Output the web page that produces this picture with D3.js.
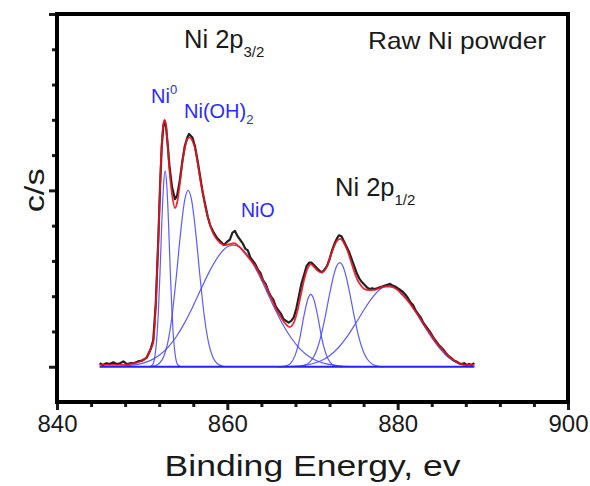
<!DOCTYPE html>
<html>
<head>
<meta charset="utf-8">
<script src="https://cdn.jsdelivr.net/npm/d3@7"></script>
<style>
  html, body { margin: 0; padding: 0; background: #fff; }
  svg { display: block; }
</style>
</head>
<body>
<script>
// ---- data (binding energy in eV, counts in c/s, arbitrary units) ----
var energyTicks = [840, 860, 880, 900];
var energyMinorTicks = [844, 848, 852, 856, 864, 868, 872, 876, 884, 888, 892, 896];
var countTicks = [0, 1, 2];
var countMinorTicks = [0.2, 0.4, 0.6, 0.8, 1.2, 1.4, 1.6, 1.8];

// measured spectrum (black)
var rawSpectrum = [
  [845.0, 0.02], [845.4, 0.01], [845.8, 0.02], [846.2, 0.015], [846.6, 0.025], [847.0, 0.015],
  [847.4, 0.02], [847.8, 0.03], [848.2, 0.015], [848.6, 0.02], [849.0, 0.02], [849.5, 0.03],
  [850.0, 0.035], [850.5, 0.05], [851.0, 0.10], [851.3, 0.15], [851.6, 0.36], [851.9, 0.73],
  [852.1, 1.02], [852.3, 1.25], [852.5, 1.37], [852.65, 1.39], [852.8, 1.36], [853.0, 1.26],
  [853.2, 1.14], [853.5, 1.02], [853.85, 0.95], [854.1, 0.97], [854.4, 1.05], [854.7, 1.16],
  [855.0, 1.25], [855.3, 1.30], [855.5, 1.32], [855.7, 1.31], [855.9, 1.30], [856.2, 1.25],
  [856.5, 1.17], [856.8, 1.08], [857.1, 0.99], [857.4, 0.92], [857.7, 0.85], [858.0, 0.80],
  [858.4, 0.76], [858.8, 0.73], [859.2, 0.71], [859.6, 0.69], [860.0, 0.71], [860.3, 0.72],
  [860.6, 0.76], [860.9, 0.77], [861.2, 0.74], [861.5, 0.72], [861.8, 0.70], [862.1, 0.67],
  [862.4, 0.66], [862.7, 0.62], [863.0, 0.60], [863.3, 0.58], [863.6, 0.55], [863.9, 0.53],
  [864.2, 0.49], [864.5, 0.47], [864.8, 0.43], [865.1, 0.40], [865.4, 0.38], [865.7, 0.34],
  [866.0, 0.32], [866.3, 0.30], [866.6, 0.27], [866.9, 0.26], [867.2, 0.25], [867.5, 0.26],
  [867.8, 0.28], [868.1, 0.33], [868.4, 0.40], [868.7, 0.47], [869.0, 0.52], [869.3, 0.57],
  [869.6, 0.59], [869.9, 0.59], [870.2, 0.575], [870.5, 0.56], [870.8, 0.545], [871.1, 0.535],
  [871.4, 0.55], [871.7, 0.57], [872.0, 0.61], [872.3, 0.66], [872.6, 0.70], [872.9, 0.73],
  [873.1, 0.745], [873.4, 0.74], [873.7, 0.71], [874.0, 0.68], [874.3, 0.65], [874.6, 0.61],
  [874.9, 0.57], [875.2, 0.53], [875.5, 0.50], [875.8, 0.48], [876.1, 0.465], [876.4, 0.45],
  [876.7, 0.44], [877.0, 0.445], [877.3, 0.44], [877.6, 0.445], [877.9, 0.45], [878.2, 0.455],
  [878.5, 0.46], [878.8, 0.465], [879.1, 0.47], [879.4, 0.46], [879.7, 0.455], [880.0, 0.445],
  [880.3, 0.435], [880.6, 0.425], [880.9, 0.41], [881.2, 0.39], [881.5, 0.365], [881.8, 0.35],
  [882.1, 0.32], [882.4, 0.30], [882.7, 0.28], [883.0, 0.25], [883.3, 0.23], [883.6, 0.21],
  [883.9, 0.19], [884.2, 0.165], [884.5, 0.145], [884.8, 0.125], [885.1, 0.11], [885.4, 0.095],
  [885.7, 0.075], [886.0, 0.06], [886.3, 0.05], [886.6, 0.035], [886.9, 0.03], [887.2, 0.02],
  [887.5, 0.015], [887.8, 0.02], [888.1, 0.01], [888.4, 0.015], [888.7, 0.01], [889.0, 0.02]
];

// fitted envelope (red)
var fitEnvelope = [
  [845.0, 0.01], [846.0, 0.01], [847.0, 0.01], [848.0, 0.01], [848.5, 0.015], [849.0, 0.02],
  [849.5, 0.025], [850.0, 0.035], [850.5, 0.05], [851.0, 0.10], [851.3, 0.14], [851.6, 0.35],
  [851.9, 0.72], [852.1, 1.02], [852.3, 1.26], [852.5, 1.38], [852.65, 1.40], [852.8, 1.37],
  [853.0, 1.25], [853.2, 1.12], [853.5, 0.98], [853.85, 0.90], [854.1, 0.93], [854.4, 1.03],
  [854.7, 1.15], [855.0, 1.24], [855.3, 1.29], [855.6, 1.30], [855.9, 1.28], [856.2, 1.24],
  [856.5, 1.16], [856.8, 1.07], [857.1, 0.99], [857.4, 0.91], [857.7, 0.85], [858.0, 0.80],
  [858.4, 0.75], [858.8, 0.72], [859.2, 0.70], [859.7, 0.69], [860.2, 0.695], [860.8, 0.70],
  [861.3, 0.685], [861.8, 0.66], [862.3, 0.63], [862.8, 0.60], [863.3, 0.57], [863.8, 0.525],
  [864.3, 0.48], [864.8, 0.43], [865.3, 0.375], [865.8, 0.32], [866.3, 0.28], [866.8, 0.245],
  [867.3, 0.225], [867.8, 0.25], [868.2, 0.31], [868.6, 0.40], [869.0, 0.49], [869.4, 0.555],
  [869.8, 0.58], [870.2, 0.565], [870.6, 0.545], [871.0, 0.535], [871.4, 0.545], [871.8, 0.58],
  [872.2, 0.64], [872.6, 0.69], [873.0, 0.72], [873.3, 0.725], [873.7, 0.70], [874.1, 0.66],
  [874.5, 0.60], [874.9, 0.54], [875.3, 0.49], [875.7, 0.46], [876.1, 0.44], [876.6, 0.435],
  [877.1, 0.435], [877.6, 0.44], [878.1, 0.45], [878.6, 0.455], [879.0, 0.455], [879.5, 0.45],
  [880.0, 0.435], [880.5, 0.41], [881.0, 0.385], [881.5, 0.355], [882.0, 0.32], [882.5, 0.285],
  [883.0, 0.245], [883.5, 0.21], [884.0, 0.175], [884.5, 0.14], [885.0, 0.11], [885.5, 0.085],
  [886.0, 0.06], [886.5, 0.04], [887.0, 0.025], [887.5, 0.015], [888.0, 0.01], [889.0, 0.01]
];

// fitted components (blue), Ni 2p3/2
var peakNi0 = [
  [850.8, 0], [851.2, 0.01], [851.5, 0.06], [851.7, 0.15], [851.9, 0.31], [852.1, 0.54],
  [852.3, 0.81], [852.5, 1.02], [852.7, 1.11], [852.9, 1.02], [853.1, 0.81], [853.3, 0.54],
  [853.5, 0.31], [853.7, 0.15], [853.9, 0.06], [854.2, 0.01], [854.6, 0]
];
var peakNiOH2 = [
  [851.0, 0], [851.4, 0.004], [852.0, 0.018], [852.5, 0.054], [853.0, 0.135], [853.5, 0.285],
  [854.0, 0.506], [854.5, 0.755], [855.0, 0.946], [855.4, 1.0], [855.8, 0.946], [856.3, 0.755],
  [856.8, 0.506], [857.3, 0.285], [857.8, 0.135], [858.3, 0.054], [858.8, 0.018], [859.4, 0.004],
  [860.0, 0]
];
var peakNiO = [
  [847.0, 0], [848.0, 0.004], [849.0, 0.010], [850.0, 0.019], [851.0, 0.036], [852.0, 0.065],
  [853.0, 0.108], [854.0, 0.170], [855.0, 0.250], [856.0, 0.346], [857.0, 0.450], [858.0, 0.549],
  [859.0, 0.630], [860.0, 0.680], [860.7, 0.690], [861.5, 0.676], [862.5, 0.624], [863.5, 0.540],
  [864.5, 0.440], [865.5, 0.336], [866.5, 0.241], [867.5, 0.163], [868.5, 0.103], [869.5, 0.061],
  [870.5, 0.034], [871.5, 0.018], [872.5, 0.009], [873.5, 0.004], [875.0, 0]
];
// fitted components (blue), Ni 2p1/2
var peakNi0Half = [
  [866.0, 0], [866.5, 0.002], [867.0, 0.006], [867.5, 0.023], [868.0, 0.07], [868.5, 0.16],
  [869.0, 0.29], [869.5, 0.39], [869.8, 0.41], [870.1, 0.39], [870.6, 0.29], [871.1, 0.16],
  [871.6, 0.07], [872.1, 0.023], [872.6, 0.006], [873.1, 0.002], [873.6, 0]
];
var peakNiOH2Half = [
  [868.2, 0], [869.0, 0.007], [869.5, 0.019], [870.0, 0.045], [870.5, 0.095], [871.0, 0.175],
  [871.5, 0.285], [872.0, 0.41], [872.5, 0.52], [872.85, 0.572], [873.2, 0.59], [873.55, 0.572],
  [873.9, 0.52], [874.4, 0.41], [874.9, 0.285], [875.4, 0.175], [875.9, 0.095], [876.4, 0.045],
  [876.9, 0.019], [877.4, 0.007], [877.9, 0.002], [878.4, 0]
];
var peakNiOHalf = [
  [866.0, 0], [867.0, 0.001], [868.0, 0.003], [869.0, 0.008], [870.0, 0.017], [871.0, 0.034],
  [872.0, 0.062], [873.0, 0.106], [874.0, 0.166], [875.0, 0.24], [876.0, 0.319], [877.0, 0.39],
  [878.0, 0.442], [879.0, 0.46], [880.0, 0.442], [881.0, 0.39], [882.0, 0.319], [883.0, 0.24],
  [884.0, 0.165], [885.0, 0.10], [886.0, 0.05], [887.0, 0.02], [888.0, 0.006], [889.0, 0.002]
];
var fitBaseline = [[845.0, 0], [889.0, 0]];

var componentPeaks = [peakNi0, peakNiOH2, peakNiO, peakNi0Half, peakNiOH2Half, peakNiOHalf];

// ---- layout ----
var W = 590, H = 486;
var plotLeft = 57, plotRight = 568, plotTop = 14, plotBottom = 402;
var fontFamily = "'Liberation Sans', Arial, Helvetica, sans-serif";
var inkColor = "#1a1a1a";
var peakColor = "#3f3fff";
var labelBlue = "#2b2bff";

var svg = d3.select("body").append("svg")
    .attr("width", W)
    .attr("height", H);

var x = d3.scaleLinear().domain([840, 900]).range([plotLeft, plotRight]);
var y = d3.scaleLinear().domain([-0.2, 2]).range([plotBottom, plotTop]);

var smooth = d3.line()
    .x(function (d) { return x(d[0]); })
    .y(function (d) { return y(d[1]); })
    .curve(d3.curveMonotoneX);

var jagged = d3.line()
    .x(function (d) { return x(d[0]); })
    .y(function (d) { return y(d[1]); });

/**
 * ticks: major + minor for each axis, labels only on the bottom majors
 */
function drawAxis(axis, cls) {
    var g = svg.append("g").attr("class", cls);
    g.call(axis);
    g.select(".domain").remove();
    g.selectAll(".tick line").attr("stroke", inkColor).attr("stroke-width", 3);
    return g;
}

var xMajor = drawAxis(d3.axisBottom(x).tickValues(energyTicks).tickSize(8).tickPadding(5), "x-major")
    .attr("transform", "translate(0," + plotBottom + ")");
xMajor.selectAll(".tick text")
    .attr("font-family", fontFamily)
    .attr("font-size", 24)
    .attr("fill", inkColor);

drawAxis(d3.axisBottom(x).tickValues(energyMinorTicks).tickSize(5).tickFormat(""), "x-minor")
    .attr("transform", "translate(0," + plotBottom + ")");

drawAxis(d3.axisLeft(y).tickValues(countTicks).tickSize(8).tickFormat(""), "y-major")
    .attr("transform", "translate(" + plotLeft + ",0)");

drawAxis(d3.axisLeft(y).tickValues(countMinorTicks).tickSize(5).tickFormat(""), "y-minor")
    .attr("transform", "translate(" + plotLeft + ",0)");

// curves: components under the measured data, fit on top
var curves = svg.append("g");

curves.selectAll("path.peak")
    .data(componentPeaks)
    .enter()
    .append("path")
    .attr("class", "peak")
    .attr("d", smooth)
    .attr("fill", "none")
    .attr("stroke", peakColor)
    .attr("stroke-opacity", 0.85)
    .attr("stroke-width", 1.2);

curves.append("path")
    .attr("d", jagged(fitBaseline))
    .attr("fill", "none")
    .attr("stroke", "#2222ff")
    .attr("stroke-width", 2.2);

curves.append("path")
    .attr("d", jagged(rawSpectrum))
    .attr("fill", "none")
    .attr("stroke", "#222")
    .attr("stroke-width", 2.2)
    .attr("stroke-linejoin", "round");

curves.append("path")
    .attr("d", smooth(fitEnvelope))
    .attr("fill", "none")
    .attr("stroke", "#e8141e")
    .attr("stroke-opacity", 0.9)
    .attr("stroke-width", 1.8);

// frame
svg.append("rect")
    .attr("x", plotLeft)
    .attr("y", plotTop)
    .attr("width", plotRight - plotLeft)
    .attr("height", plotBottom - plotTop)
    .attr("fill", "none")
    .attr("stroke", "#000")
    .attr("stroke-width", 4);

/**
 * text with optional sub/superscript parts: [text, baselineShift, fontSize]
 */
function addLabel(px, py, parts, size, color, anchor) {
    var t = svg.append("text")
        .attr("x", px)
        .attr("y", py)
        .attr("font-family", fontFamily)
        .attr("font-size", size)
        .attr("fill", color)
        .attr("text-anchor", anchor || "start");
    var shift = 0;
    parts.forEach(function (p) {
        var s = t.append("tspan").text(p[0]);
        var next = p[1] || 0;
        if (next !== shift) s.attr("dy", next - shift);
        if (p[2]) s.attr("font-size", p[2]);
        shift = next;
    });
    return t;
}

addLabel(184, 48, [["Ni 2p"], ["3/2", 9, 15]], 25.5, inkColor);
addLabel(335, 196, [["Ni 2p"], ["1/2", 9, 15]], 25.5, inkColor);
addLabel(546, 49, [["Raw Ni powder"]], 24, inkColor, "end")
    .attr("textLength", 178)
    .attr("lengthAdjust", "spacingAndGlyphs");

addLabel(151, 103, [["Ni"], ["0", -9, 13]], 20, labelBlue);
addLabel(184, 118, [["Ni(OH)"], ["2", 6, 13]], 20, labelBlue);
addLabel(241, 217, [["NiO"]], 19.5, labelBlue);

// axis titles
svg.append("text")
    .attr("transform", "translate(44," + y(1) + ") rotate(-90)")
    .attr("text-anchor", "middle")
    .attr("font-family", fontFamily)
    .attr("font-size", 28)
    .attr("fill", inkColor)
    .attr("textLength", 44)
    .attr("lengthAdjust", "spacingAndGlyphs")
    .text("c/s");

svg.append("text")
    .attr("x", (plotLeft + plotRight) / 2)
    .attr("y", 476)
    .attr("text-anchor", "middle")
    .attr("font-family", fontFamily)
    .attr("font-size", 30)
    .attr("fill", inkColor)
    .attr("textLength", 296)
    .attr("lengthAdjust", "spacingAndGlyphs")
    .text("Binding Energy, ev");
</script>
</body>
</html>
